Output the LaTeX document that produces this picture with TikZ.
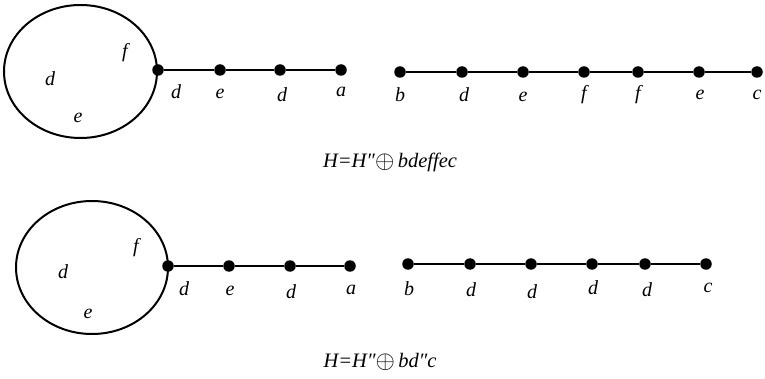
\documentclass[tikz,border=0pt]{standalone}
\usepackage{fontspec}
\setmainfont{Liberation Serif}
\begin{document}
\begin{tikzpicture}[x=1pt,y=-1pt,
  dot/.style={circle,fill=black,inner sep=0pt,minimum size=11.5pt},
  lbl/.style={font=\fontsize{20}{22}\selectfont\itshape,inner sep=0pt},
  caplbl/.style={font=\fontsize{20.5}{22}\selectfont\itshape,inner sep=0pt},
  edge/.style={line width=2pt},
  loopc/.style={line width=2pt}]
\useasboundingbox (0,0) rectangle (765,379);
% ---- top ----
\draw[loopc] (80.5,71.5) ellipse [x radius=76.5,y radius=66.5];
\node[dot] (t1) at (158,70) {};
\node[dot] (t2) at (220,70) {};
\node[dot] (t3) at (280,70) {};
\node[dot] (t4) at (341,70) {};
\draw[edge] (t1)--(t2)--(t3)--(t4);
\node[lbl] (tl1) at (176,92) {d};
\node[lbl] (tl2) at (220,94) {e};
\node[lbl] (tl3) at (282,95) {d};
\node[lbl] (tl4) at (341,92) {a};
\node[lbl] (ti1) at (125,53) {f};
\node[lbl] (ti2) at (50,79) {d};
\node[lbl] (ti3) at (78,118) {e};
\node[dot] (r1) at (400,72) {};
\node[dot] (r2) at (462,72) {};
\node[dot] (r3) at (523,72) {};
\node[dot] (r4) at (584,72) {};
\node[dot] (r5) at (638,72) {};
\node[dot] (r6) at (699,72) {};
\node[dot] (r7) at (757,72) {};
\draw[edge] (r1)--(r2)--(r3)--(r4)--(r5)--(r6)--(r7);
\node[lbl] (rl1) at (400,95) {b};
\node[lbl] (rl2) at (464,95) {d};
\node[lbl] (rl3) at (523,97) {e};
\node[lbl] (rl4) at (584,95) {f};
\node[lbl] (rl5) at (638,95) {f};
\node[lbl] (rl6) at (700,95) {e};
\node[lbl] (rl7) at (757,95) {c};
\node[caplbl] (cap1) at (390,162) {H=H″\raisebox{-1pt}{\upshape\fontsize{26}{26}\selectfont$\oplus$}\,bdeffec};
% ---- bottom ----
\draw[loopc] (92,267.5) ellipse [x radius=76,y radius=66.5];
\node[dot] (b1) at (168,266) {};
\node[dot] (b2) at (229,266) {};
\node[dot] (b3) at (290,266) {};
\node[dot] (b4) at (350,266) {};
\draw[edge] (b1)--(b2)--(b3)--(b4);
\node[lbl] (bl1) at (184,289) {d};
\node[lbl] (bl2) at (230,291) {e};
\node[lbl] (bl3) at (291,292) {d};
\node[lbl] (bl4) at (351,290) {a};
\node[lbl] (bi1) at (136,248) {f};
\node[lbl] (bi2) at (63,272) {d};
\node[lbl] (bi3) at (88,314) {e};
\node[dot] (s1) at (408,264) {};
\node[dot] (s2) at (470,264) {};
\node[dot] (s3) at (531,264) {};
\node[dot] (s4) at (592,264) {};
\node[dot] (s5) at (645,264) {};
\node[dot] (s6) at (706,264) {};
\draw[edge] (s1)--(s2)--(s3)--(s4)--(s5)--(s6);
\node[lbl] (sl1) at (409,289) {b};
\node[lbl] (sl2) at (471,290) {d};
\node[lbl] (sl3) at (532,292) {d};
\node[lbl] (sl4) at (593,288) {d};
\node[lbl] (sl5) at (647,290) {d};
\node[lbl] (sl6) at (708,288) {c};
\node[caplbl] (cap2) at (380,362) {H=H″\raisebox{-1pt}{\upshape\fontsize{26}{26}\selectfont$\oplus$}\,bd″c};
\end{tikzpicture}
\end{document}
